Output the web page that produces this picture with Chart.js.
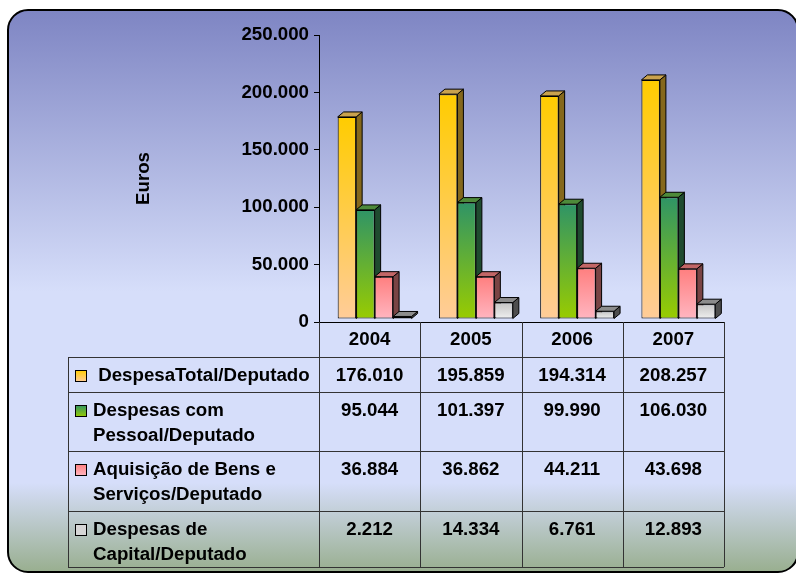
<!DOCTYPE html>
<html>
<head>
<meta charset="utf-8">
<script src="https://cdn.jsdelivr.net/npm/chart.js@4.4.1/dist/chart.umd.min.js"></script>
<style>
  body { margin: 0; background: #fff; }
  #wrap { width: 796px; height: 573px; }
</style>
</head>
<body>
<div id="wrap"><canvas id="chart" width="796" height="573"></canvas></div>
<script>
var years = ['2004', '2005', '2006', '2007'];
var despesaTotal = [176010, 195859, 194314, 208257];
var despesasPessoal = [95044, 101397, 99990, 106030];
var aquisicaoBens = [36884, 36862, 44211, 43698];
var despesasCapital = [2212, 14334, 6761, 12893];
var seriesNames = [
    [' DespesaTotal/Deputado'],
    ['Despesas com', 'Pessoal/Deputado'],
    ['Aquisição de Bens e', 'Serviços/Deputado'],
    ['Despesas de', 'Capital/Deputado']
];
var yTicks = [0, 50000, 100000, 150000, 200000, 250000];

var FAMILY = '"Liberation Sans", Arial, sans-serif';
var SIZE = 18.7;
var FONT = 'bold ' + SIZE + 'px ' + FAMILY;

// front gradient (top, bottom), side face, top face, legend key
var looks = [
    { top: '#ffcc00', bottom: '#ffcc99', side: '#85681c', lid: '#c9a24e', key: '#ffcc66' },
    { top: '#2f9466', bottom: '#99cc00', side: '#1f4b2f', lid: '#4e8a3a', key: '#4c9c3c' },
    { top: '#ff7f7f', bottom: '#ffb6c1', side: '#7a4444', lid: '#c26666', key: '#ff9c9c' },
    { top: '#c4c4c4', bottom: '#f0f0f0', side: '#4e4e4e', lid: '#8c8c8c', key: '#d6d6d6' }
];

function fmt(v) {
    return String(v).replace(/\B(?=(\d{3})+(?!\d))/g, '.');
}

function frontFill(i) {
    return function(c) {
        var chart = c.chart;
        if (!chart.chartArea || c.type !== 'data') return looks[i].top;
        var y = chart.scales.y;
        var g = chart.ctx.createLinearGradient(0, y.getPixelForValue(c.raw), 0, y.getPixelForValue(0));
        g.addColorStop(0, looks[i].top);
        g.addColorStop(1, looks[i].bottom);
        return g;
    };
}

var DX = 6, DY = -5;

var background = {
    id: 'background',
    beforeDraw: function(chart) {
        var ctx = chart.ctx;
        ctx.save();
        ctx.fillStyle = '#fff';
        ctx.fillRect(0, 0, chart.width, chart.height);
        var g = ctx.createLinearGradient(0, 10, 0, 573);
        g.addColorStop(0, '#7e85c3');
        g.addColorStop(0.5, '#d6defa');
        g.addColorStop(0.84, '#d6defa');
        g.addColorStop(1, '#98ae8e');
        ctx.beginPath();
        ctx.roundRect(8, 10, 790, 562, 20);
        ctx.fillStyle = g;
        ctx.fill();
        ctx.lineWidth = 2;
        ctx.strokeStyle = '#000';
        ctx.stroke();
        ctx.restore();
    }
};

function drawDepth(ctx, meta, look) {
    ctx.save();
    ctx.lineWidth = 1;
    ctx.strokeStyle = '#000';
    ctx.lineJoin = 'round';
    meta.data.forEach(function(bar) {
        var l = bar.x - bar.width / 2, r = bar.x + bar.width / 2;
        var t = bar.y, b = bar.base;
        ctx.beginPath();
        ctx.moveTo(r, t);
        ctx.lineTo(r + DX, t + DY);
        ctx.lineTo(r + DX, b + DY);
        ctx.lineTo(r, b);
        ctx.closePath();
        ctx.fillStyle = look.side;
        ctx.fill();
        ctx.stroke();
        ctx.beginPath();
        ctx.moveTo(l, t);
        ctx.lineTo(l + DX, t + DY);
        ctx.lineTo(r + DX, t + DY);
        ctx.lineTo(r, t);
        ctx.closePath();
        ctx.fillStyle = look.lid;
        ctx.fill();
        ctx.stroke();
    });
    ctx.restore();
}

// bars drawn left to right, each series with its side and lid, so the next one covers them
var bars3d = {
    id: 'bars3d',
    beforeDatasetsDraw: function(chart) {
        var ctx = chart.ctx;
        ctx.save();
        ctx.translate(5, -3);
        for (var i = 0; i < chart.data.datasets.length; i++) {
            var meta = chart.getDatasetMeta(i);
            meta.data.forEach(function(el) { el.draw(ctx); });
            drawDepth(ctx, meta, looks[i]);
        }
        ctx.restore();
        return false;
    }
};

var dataTable = {
    id: 'dataTable',
    afterDraw: function(chart) {
        var ctx = chart.ctx;
        var area = chart.chartArea;
        var x = chart.scales.x;
        var cw = (area.right - area.left) / years.length;
        var rowTops = [357, 392, 451, 511];
        var bottom = 567;
        var tableLeft = 68;
        var values = [despesaTotal, despesasPessoal, aquisicaoBens, despesasCapital];

        ctx.save();
        ctx.strokeStyle = '#333';
        ctx.lineWidth = 1;
        ctx.beginPath();
        for (var i = 0; i <= years.length; i++) {
            var vx = Math.round(area.left + i * cw) + 0.5;
            ctx.moveTo(vx, area.bottom);
            ctx.lineTo(vx, bottom);
        }
        ctx.moveTo(tableLeft + 0.5, rowTops[0]);
        ctx.lineTo(tableLeft + 0.5, bottom);
        rowTops.concat([bottom]).forEach(function(y) {
            ctx.moveTo(tableLeft, y + 0.5);
            ctx.lineTo(area.right, y + 0.5);
        });
        ctx.stroke();

        ctx.font = FONT;
        ctx.fillStyle = '#000';
        ctx.textBaseline = 'middle';
        seriesNames.forEach(function(lines, r) {
            var ty = rowTops[r] + 19;
            // legend key
            var kg = ctx.createLinearGradient(0, ty - 6, 0, ty + 6);
            kg.addColorStop(0, looks[r].top);
            kg.addColorStop(1, looks[r].bottom);
            ctx.fillStyle = r === 3 ? looks[r].key : kg;
            ctx.fillRect(75.5, ty - 5.5, 11, 11);
            ctx.strokeStyle = '#000';
            ctx.strokeRect(75.5, ty - 5.5, 11, 11);

            ctx.fillStyle = '#000';
            ctx.textAlign = 'left';
            lines.forEach(function(s, k) {
                ctx.fillText(s, 93, ty + k * 25);
            });
            ctx.textAlign = 'center';
            values[r].forEach(function(v, c) {
                ctx.fillText(fmt(v), x.getPixelForValue(c), ty);
            });
        });
        ctx.restore();
    }
};

var ds = [despesaTotal, despesasPessoal, aquisicaoBens, despesasCapital].map(function(d, i) {
    return {
        label: seriesNames[i].join(' ').trim(),
        data: d,
        backgroundColor: frontFill(i),
        borderColor: '#000',
        borderWidth: 1,
        borderSkipped: false,
        categoryPercentage: 0.73,
        barPercentage: 1.0,
        clip: false
    };
});

var tickFont = { family: FAMILY, size: SIZE, weight: 'bold' };

new Chart(document.getElementById('chart'), {
    type: 'bar',
    data: { labels: years, datasets: ds },
    options: {
        responsive: false,
        animation: false,
        layout: { padding: { top: 35, right: 72, left: 0, bottom: 0 } },
        plugins: { legend: { display: false }, tooltip: { enabled: false } },
        scales: {
            x: {
                afterFit: function(s) { s.height = 251; },
                grid: { display: false, drawTicks: false },
                border: { display: true, color: '#000', width: 1 },
                ticks: { color: '#000', font: tickFont, padding: 7, maxRotation: 0 }
            },
            y: {
                min: 0,
                max: 250000,
                afterFit: function(s) { s.width = 319; },
                afterBuildTicks: function(s) { s.ticks = yTicks.map(function(v) { return { value: v }; }); },
                grid: { drawOnChartArea: false, drawTicks: true, tickLength: 5, color: '#000' },
                border: { display: true, color: '#000', width: 1 },
                ticks: {
                    color: '#000',
                    padding: 5,
                    font: tickFont,
                    callback: function(v) { return fmt(v); }
                },
                title: {
                    display: true,
                    text: 'Euros',
                    color: '#000',
                    font: tickFont,
                    padding: { top: 133, bottom: 0 }
                }
            }
        }
    },
    plugins: [background, bars3d, dataTable]
});
</script>
</body>
</html>
